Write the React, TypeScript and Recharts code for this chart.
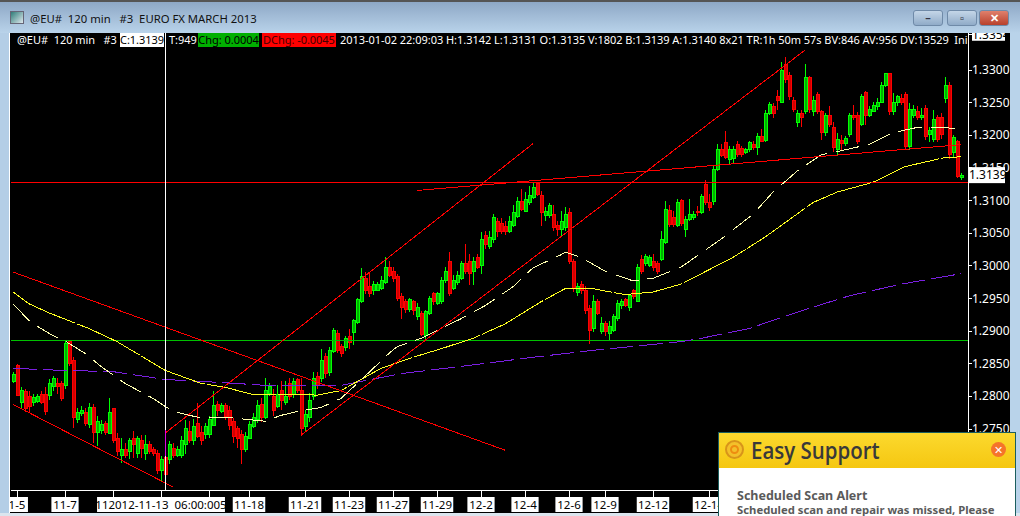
import { Bar, ComposedChart, Line, ReferenceLine, XAxis, YAxis } from "recharts";

// all prices in pips (1.3139 -> 13139), one entry per 120 min bar
const opens = [
  12823, 12847, 12790, 12808, 12800, 12790, 12793, 12803, 12803, 12802, 12815, 12820, 12820, 12817, 12884, 12855, 12765, 12774, 12776, 12757,
  12783, 12745, 12748, 12759, 12744, 12782, 12736, 12709, 12719, 12716, 12735, 12713, 12732, 12712, 12726, 12719, 12712, 12686, 12707, 12703,
  12721, 12709, 12710, 12726, 12747, 12732, 12759, 12745, 12741, 12741, 12756, 12788, 12777, 12786, 12779, 12761, 12751, 12742, 12718, 12736,
  12754, 12764, 12788, 12767, 12805, 12800, 12785, 12809, 12790, 12820, 12803, 12826, 12809, 12754, 12767, 12800, 12831, 12828, 12861, 12837,
  12869, 12896, 12876, 12875, 12892, 12898, 12914, 12946, 12981, 12969, 12962, 12963, 12965, 12975, 12998, 12992, 12983, 12953, 12945, 12933,
  12945, 12922, 12927, 12893, 12927, 12957, 12943, 12945, 12977, 13007, 12965, 12975, 12980, 13004, 13007, 12991, 13013, 13001, 13046, 13030,
  13041, 13068, 13065, 13061, 13052, 13062, 13076, 13099, 13084, 13097, 13105, 13126, 13108, 13077, 13077, 13079, 13062, 13055, 13059, 13081,
  13006, 12959, 12972, 12963, 12934, 12904, 12945, 12899, 12911, 12896, 12901, 12919, 12939, 12948, 12937, 12962, 12946, 13010, 13003, 13001,
  13007, 13003, 13010, 13036, 13085, 13074, 13062, 13100, 13056, 13071, 13074, 13084, 13082, 13125, 13097, 13099, 13148, 13178, 13189, 13163,
  13164, 13186, 13180, 13174, 13178, 13186, 13181, 13198, 13192, 13234, 13244, 13259, 13251, 13308, 13292, 13254, 13219, 13233, 13236, 13288,
  13236, 13262, 13236, 13204, 13231, 13212, 13178, 13192, 13187, 13201, 13231, 13230, 13216, 13265, 13231, 13236, 13244, 13251, 13277, 13294,
  13236, 13250, 13257, 13262, 13183, 13230, 13236, 13227, 13241, 13201, 13193, 13227, 13227, 13257, 13277, 13174, 13190, 13135,
];
const highs = [
  12838, 12850, 12815, 12812, 12808, 12803, 12803, 12809, 12815, 12826, 12832, 12828, 12824, 12887, 12887, 12861, 12782, 12785, 12782, 12790,
  12788, 12770, 12764, 12762, 12797, 12783, 12744, 12736, 12729, 12736, 12747, 12739, 12741, 12741, 12732, 12722, 12718, 12709, 12713, 12732,
  12729, 12724, 12739, 12764, 12762, 12765, 12790, 12754, 12759, 12770, 12809, 12793, 12790, 12790, 12785, 12767, 12754, 12748, 12745, 12762,
  12774, 12794, 12797, 12828, 12820, 12812, 12817, 12824, 12824, 12828, 12828, 12829, 12829, 12779, 12805, 12838, 12837, 12873, 12866, 12876,
  12905, 12902, 12881, 12892, 12904, 12919, 12951, 12997, 12991, 12991, 12977, 12975, 12985, 13013, 13007, 12998, 12988, 12959, 12950, 12951,
  12948, 12943, 12931, 12933, 12954, 12960, 12960, 12983, 12998, 13021, 12986, 12992, 13007, 13033, 13018, 13013, 13018, 13052, 13053, 13053,
  13079, 13074, 13074, 13068, 13076, 13094, 13105, 13117, 13113, 13123, 13128, 13129, 13114, 13090, 13097, 13094, 13068, 13084, 13090, 13088,
  13010, 12974, 12977, 12969, 12940, 12956, 12950, 12922, 12916, 12916, 12927, 12948, 12950, 12951, 12957, 12965, 13003, 13016, 13018, 13016,
  13018, 13007, 13053, 13100, 13094, 13084, 13102, 13103, 13077, 13103, 13084, 13091, 13110, 13132, 13110, 13155, 13187, 13186, 13206, 13183,
  13184, 13192, 13184, 13181, 13192, 13192, 13204, 13209, 13239, 13251, 13250, 13270, 13312, 13320, 13297, 13259, 13239, 13239, 13309, 13291,
  13260, 13266, 13239, 13234, 13245, 13221, 13204, 13201, 13199, 13234, 13247, 13236, 13263, 13268, 13245, 13251, 13257, 13282, 13295, 13295,
  13265, 13262, 13263, 13266, 13250, 13247, 13245, 13242, 13247, 13213, 13239, 13231, 13234, 13289, 13282, 13201, 13193, 13143,
];
const lows = [
  12821, 12800, 12782, 12776, 12774, 12785, 12790, 12788, 12771, 12794, 12809, 12803, 12793, 12812, 12846, 12751, 12759, 12770, 12754, 12751,
  12729, 12724, 12742, 12741, 12742, 12729, 12709, 12698, 12706, 12704, 12706, 12706, 12706, 12703, 12712, 12709, 12681, 12669, 12678, 12697,
  12706, 12707, 12706, 12712, 12729, 12726, 12736, 12726, 12735, 12736, 12754, 12770, 12774, 12764, 12748, 12729, 12721, 12697, 12715, 12735,
  12751, 12759, 12761, 12765, 12800, 12770, 12782, 12780, 12787, 12794, 12797, 12806, 12742, 12747, 12761, 12794, 12812, 12822, 12828, 12831,
  12866, 12866, 12861, 12870, 12873, 12879, 12911, 12943, 12957, 12953, 12956, 12962, 12963, 12972, 12983, 12975, 12946, 12919, 12928, 12930,
  12925, 12917, 12892, 12885, 12924, 12940, 12940, 12942, 12974, 12954, 12963, 12971, 12978, 12988, 12971, 12971, 12995, 12988, 13026, 13026,
  13035, 13044, 13049, 13047, 13050, 13059, 13073, 13084, 13082, 13094, 13102, 13107, 13061, 13068, 13074, 13053, 13046, 13044, 13053, 13003,
  12960, 12954, 12957, 12927, 12881, 12899, 12925, 12896, 12893, 12887, 12899, 12916, 12934, 12937, 12931, 12950, 12945, 12988, 13000, 12998,
  12992, 12988, 13007, 13033, 13059, 13059, 13059, 13061, 13044, 13068, 13071, 13076, 13079, 13093, 13084, 13094, 13145, 13166, 13163, 13155,
  13158, 13166, 13166, 13172, 13175, 13178, 13170, 13189, 13190, 13231, 13227, 13239, 13250, 13280, 13254, 13236, 13213, 13212, 13233, 13234,
  13230, 13233, 13193, 13199, 13212, 13175, 13170, 13178, 13184, 13198, 13224, 13186, 13215, 13216, 13228, 13235, 13239, 13250, 13274, 13231,
  13231, 13245, 13247, 13177, 13178, 13227, 13224, 13224, 13193, 13190, 13190, 13190, 13195, 13250, 13163, 13166, 13134, 13131,
];
const closes = [
  12834, 12802, 12809, 12782, 12785, 12799, 12800, 12791, 12777, 12820, 12828, 12815, 12797, 12881, 12851, 12767, 12776, 12779, 12759, 12783,
  12745, 12761, 12757, 12745, 12776, 12733, 12715, 12719, 12709, 12732, 12726, 12735, 12721, 12726, 12716, 12712, 12687, 12703, 12680, 12726,
  12709, 12718, 12732, 12751, 12733, 12754, 12739, 12732, 12754, 12764, 12786, 12779, 12786, 12770, 12756, 12739, 12736, 12718, 12739, 12757,
  12767, 12786, 12767, 12809, 12815, 12779, 12803, 12794, 12800, 12800, 12823, 12809, 12751, 12773, 12794, 12828, 12817, 12855, 12835, 12870,
  12901, 12870, 12866, 12889, 12882, 12916, 12948, 12983, 12962, 12957, 12972, 12972, 12977, 12998, 12986, 12980, 12950, 12937, 12933, 12948,
  12931, 12936, 12895, 12930, 12950, 12945, 12957, 12978, 12992, 12957, 12978, 12985, 13003, 12992, 12988, 13007, 12998, 13041, 13033, 13044,
  13074, 13053, 13052, 13052, 13068, 13081, 13099, 13087, 13102, 13108, 13120, 13110, 13082, 13084, 13093, 13059, 13055, 13068, 13079, 13006,
  12965, 12969, 12962, 12931, 12901, 12945, 12927, 12911, 12899, 12907, 12922, 12942, 12946, 12940, 12954, 12953, 12998, 12992, 13015, 13013,
  12998, 12992, 13041, 13087, 13064, 13064, 13097, 13065, 13071, 13079, 13079, 13081, 13106, 13097, 13090, 13148, 13178, 13169, 13166, 13178,
  13178, 13170, 13170, 13178, 13189, 13181, 13198, 13190, 13234, 13247, 13234, 13254, 13300, 13285, 13259, 13239, 13233, 13227, 13288, 13239,
  13254, 13236, 13204, 13230, 13216, 13181, 13193, 13187, 13195, 13231, 13228, 13190, 13259, 13231, 13239, 13245, 13251, 13277, 13294, 13236,
  13251, 13259, 13250, 13183, 13239, 13239, 13227, 13231, 13198, 13207, 13224, 13193, 13201, 13277, 13170, 13197, 13137, 13139,
];

// moving averages, read at the bars where the curve bends
const slowBars = [0, 4, 9, 19, 26, 38, 47, 53, 60, 72, 76, 82, 92, 100, 107, 115, 123, 132, 138, 145, 153, 160, 167, 180, 188, 200, 206, 215, 223, 233, 237];
const slowValues = [12960, 12942, 12928, 12904, 12884, 12840, 12820, 12814, 12803, 12803, 12802, 12809, 12843, 12860, 12873, 12889, 12911, 12945, 12965, 12965, 12956, 12960, 12972, 13013, 13044, 13097, 13113, 13128, 13152, 13166, 13167];
const fastBars = [0, 4, 7, 10, 13, 18, 22, 28, 35, 40, 47, 55, 63, 67, 71, 77, 82, 88, 94, 96, 102, 112, 118, 125, 130, 137, 138, 142, 148, 155, 160, 167, 177, 185, 190, 196, 202, 206, 214, 220, 226, 232, 237];
const fastValues = [12942, 12916, 12904, 12893, 12885, 12866, 12846, 12820, 12797, 12777, 12767, 12767, 12762, 12771, 12777, 12783, 12797, 12831, 12866, 12876, 12889, 12919, 12939, 12968, 12997, 13017, 13021, 13013, 12992, 12977, 12981, 12998, 13041, 13079, 13113, 13145, 13170, 13175, 13186, 13204, 13212, 13212, 13210];
const longBars = [0, 12, 25, 38, 53, 63, 82, 97, 112, 130, 144, 167, 172, 184, 197, 209, 222, 237];
const longValues = [12843, 12840, 12838, 12826, 12821, 12817, 12817, 12835, 12846, 12860, 12870, 12884, 12889, 12904, 12931, 12954, 12972, 12988];

const priceTicks = [1.3354, 1.33, 1.325, 1.32, 1.315, 1.31, 1.305, 1.3, 1.295, 1.29, 1.285, 1.28, 1.275, 1.3139];
const tickBars = [1, 13, 25, 37, 49, 59, 73, 84, 95, 106, 117, 128, 139, 148, 160, 174];
const tickLabels = ["1-5", "11-7", "", "112012-11-13  06:00:005", "", "11-18", "11-21", "11-23", "11-27", "11-29", "12-2", "12-4", "12-6", "12-9", "12-12", "12-14"];

// drawn trend lines: [bar, price, bar, price]
const trendLines = [
  [0, 1.29905, 123, 1.27177],
  [0, 1.27878, 40, 1.26613],
  [38, 1.27436, 130, 1.31872],
  [72, 1.27405, 198, 1.33305],
  [101, 1.31155, 237, 1.31857],
];

const lookup = (bars: number[], values: number[], bar: number) => {
  const at = bars.indexOf(bar);
  return at < 0 ? null : values[at] / 10000;
};

const table = closes.map((c, i) => ({
  bar: i,
  open: opens[i] / 10000,
  close: c / 10000,
  high: highs[i] / 10000,
  low: lows[i] / 10000,
  range: [lows[i] / 10000, highs[i] / 10000],
  slow: lookup(slowBars, slowValues, i),
  fast: lookup(fastBars, fastValues, i),
  long: lookup(longBars, longValues, i),
}));

const FONT = '"Noto Sans", sans-serif';

const Candle = (props: any) => {
  const { x, y, width, height, payload } = props;
  const span = payload.high - payload.low;
  const at = (v: number) => y + ((payload.high - v) / span) * height;
  const up = payload.close >= payload.open;
  const top = at(Math.max(payload.open, payload.close));
  const bottom = at(Math.min(payload.open, payload.close));
  const mid = Math.round(x + width / 2);
  const bright = up ? "#00ff00" : "#ff0000";
  return (
    <g shapeRendering="crispEdges">
      <line x1={mid + 0.5} x2={mid + 0.5} y1={y} y2={y + height} stroke={bright} />
      <rect x={mid - 1} y={top} width={3} height={Math.max(bottom - top, 1)} fill={up ? "#00b000" : "#d00000"} stroke={bright} />
    </g>
  );
};

const PriceTick = (props: any) => {
  const { x, y, payload } = props;
  const v = payload.value;
  const top = v === 1.3354;
  const last = v === 1.3139;
  return (
    <g>
      <line x1={x - 8} x2={x - 4} y1={y} y2={y} stroke="#fff" shapeRendering="crispEdges" />
      {top && <rect x={x - 4} y={y - 7} width={33} height={13} fill="#fff" />}
      {last && <rect x={x - 8} y={y - 8} width={37} height={16} fill="#fff" />}
      <text x={x - (last ? 7 : 4)} y={y + 4} fontFamily={FONT} fontSize={12} fill={top || last ? "#000" : "#fff"}>
        {v.toFixed(4)}
      </text>
    </g>
  );
};

const TimeTick = (props: any) => {
  const { x, y, payload } = props;
  const label = tickLabels[tickBars.indexOf(payload.value)];
  const w = label.length * 5.3 + 6;
  return (
    <g>
      <line x1={x} x2={x} y1={y - 8} y2={y - 1} stroke="#fff" shapeRendering="crispEdges" />
      {label !== "" && (
        <>
          <rect x={x - w / 2} y={y - 1} width={w} height={15} fill="#fff" />
          <text x={x} y={y + 11} textAnchor="middle" fontFamily={FONT} fontSize={11.5} fill="#000" style={{ whiteSpace: "pre" }}>
            {label}
          </text>
        </>
      )}
    </g>
  );
};

const box = (left: number, top: number, width: number, height: number, extra: any = {}): any => ({
  position: "absolute",
  left,
  top,
  width,
  height,
  ...extra,
});

const infoText = (left: number, width: number, bg: string, color: string, text: string) => (
  <div
    style={box(left, 33, width, 14, {
      background: bg,
      color,
      fontFamily: FONT,
      fontSize: 11,
      letterSpacing: -0.04,
      lineHeight: "14px",
      whiteSpace: "pre",
      textAlign: bg === "#000" ? "left" : "center",
    })}
  >
    {text}
  </div>
);

const WinButton = ({ left, mark, red }: { left: number; mark: string; red?: boolean }) => (
  <div
    style={box(left, 10, 30, 16, {
      borderRadius: 3,
      border: "1px solid #6f8aa8",
      boxSizing: "border-box",
      background: red ? "linear-gradient(#e0806c, #b8402c)" : "linear-gradient(#c4d6e8, #90abc8)",
      color: red ? "#fff" : "#334",
      fontFamily: FONT,
      fontWeight: 700,
      fontSize: 11,
      lineHeight: "14px",
      textAlign: "center",
    })}
  >
    {mark}
  </div>
);

const App = () => {
  return (
    <div style={{ position: "fixed", left: 0, top: 0, width: 1020, height: 516, overflow: "hidden", background: "#000" }}>
      <div style={box(0, 0, 1020, 516, { zIndex: 1 })}>
        <ComposedChart
          width={1020}
          height={516}
          data={table}
          barCategoryGap={0}
          margin={{ top: 33, right: 10, bottom: 3, left: 11 }}
        >
          <XAxis
            dataKey="bar"
            type="category"
            ticks={tickBars}
            interval={0}
            height={23}
            padding={{ left: 0, right: 5 }}
            axisLine={{ stroke: "#fff", shapeRendering: "crispEdges" }}
            tickLine={false}
            tick={<TimeTick />}
          />
          <YAxis
            orientation="right"
            type="number"
            domain={[1.26567, 1.33567]}
            allowDataOverflow
            ticks={priceTicks}
            interval={0}
            width={42}
            axisLine={{ stroke: "#fff", shapeRendering: "crispEdges" }}
            tickLine={false}
            tick={<PriceTick />}
          />
          <ReferenceLine y={1.3127} stroke="#ff0000" strokeWidth={1} shapeRendering="crispEdges" />
          <ReferenceLine y={1.2885} stroke="#00c000" strokeWidth={1} shapeRendering="crispEdges" />
          <Bar dataKey="range" isAnimationActive={false} shape={<Candle />} />
          <Line dataKey="long" connectNulls dot={false} stroke="#7a1fe0" strokeWidth={1} strokeDasharray="24 6" shapeRendering="crispEdges" isAnimationActive={false} />
          <Line dataKey="slow" connectNulls dot={false} stroke="#ffff20" strokeWidth={1} strokeDasharray="70 2" shapeRendering="crispEdges" isAnimationActive={false} />
          <Line dataKey="fast" connectNulls dot={false} stroke="#ffffb0" strokeWidth={1} strokeDasharray="24 9" shapeRendering="crispEdges" isAnimationActive={false} />
          {trendLines.map((t, i) => (
            <ReferenceLine
              key={i}
              segment={[
                { x: t[0], y: t[1] },
                { x: t[2], y: t[3] },
              ]}
              stroke="#ff0000"
              strokeWidth={1}
              shapeRendering="crispEdges"
              ifOverflow="visible"
            />
          ))}
          <ReferenceLine x={38} stroke="#fff" strokeWidth={1} shapeRendering="crispEdges" />
          <ReferenceLine
            segment={[
              { x: 38, y: 1.2748 },
              { x: 38, y: 1.2709 },
            ]}
            stroke="#e000e0"
            strokeWidth={1}
            shapeRendering="crispEdges"
          />
        </ComposedChart>
      </div>

      {/* status line above the plot */}
      <div style={{ position: "absolute", left: 0, top: 0, zIndex: 2 }}>
        {infoText(17, 100, "#000", "#fff", "@EU#  120 min   #3")}
        {infoText(120, 44, "#fff", "#000", "C:1.3139")}
        {infoText(169, 29, "#000", "#fff", "T:949")}
        {infoText(198, 61, "#00b000", "#000", "Chg: 0.0004")}
        {infoText(262, 74, "#ff0000", "#400", "DChg: -0.0045")}
        {infoText(340, 628, "#000", "#fff", "2013-01-02 22:09:03 H:1.3142 L:1.3131 O:1.3135 V:1802 B:1.3139 A:1.3140 8x21 TR:1h 50m 57s BV:846 AV:956 DV:13529  Ini")}
      </div>

      {/* window frame */}
      <div style={box(0, 0, 1020, 33, { zIndex: 3, background: "linear-gradient(#8ea8c6, #b9d3ea)", borderTop: "2px solid #555", boxSizing: "border-box" })} />
      <div style={box(0, 33, 10, 483, { zIndex: 3, background: "#b4cee6", borderRight: "1px solid #fff", boxSizing: "border-box" })} />
      <div style={box(1010, 33, 10, 483, { zIndex: 3, background: "#b9d3ea" })} />
      <div style={box(0, 513, 1020, 3, { zIndex: 3, background: "#dbe5ee" })} />
      <div style={box(10, 11, 14, 13, { zIndex: 4, background: "linear-gradient(135deg, #2f7d78, #dfe8ee)", border: "1px solid #667", boxSizing: "border-box" })} />
      <div style={box(30, 10, 400, 18, { zIndex: 4, fontFamily: FONT, fontSize: 11.3, lineHeight: "18px", color: "#111", whiteSpace: "pre" })}>
        {"@EU#  120 min   #3  EURO FX MARCH 2013"}
      </div>
      <div style={{ position: "absolute", left: 0, top: 0, zIndex: 4 }}>
        <WinButton left={913} mark="–" />
        <WinButton left={947} mark="▫" />
        <WinButton left={979} mark="✕" red />
      </div>

      {/* pop-up sitting over the chart */}
      <div style={box(718, 432, 298, 84, { zIndex: 5, background: "#fff", borderLeft: "1px solid #1b5e5e", borderTop: "1px solid #1b5e5e", borderRight: "1px solid #1b5e5e", boxSizing: "border-box" })}>
        <div style={box(0, 0, 296, 35, { background: "linear-gradient(#fcd92e, #f5c711)" })} />
        <div style={box(6, 7, 19, 19, { borderRadius: 10, background: "#f3c02a", border: "2px solid #d8941a", boxSizing: "border-box" })} />
        <div style={box(11, 12, 9, 9, { borderRadius: 5, border: "2px solid #ee8c10", boxSizing: "border-box" })} />
        <div style={box(32, 0, 200, 35, { fontFamily: '"Open Sans", sans-serif', fontWeight: 600, fontSize: 23, lineHeight: "34px", color: "#39393a", whiteSpace: "pre", transform: "scaleX(0.89)", transformOrigin: "left" })}>
          Easy Support
        </div>
        <div style={box(272, 9, 15, 15, { borderRadius: 8, background: "#f5742a", color: "#fff", fontFamily: FONT, fontSize: 11, lineHeight: "15px", textAlign: "center" })}>✕</div>
        <div style={box(18, 55, 270, 16, { fontFamily: FONT, fontWeight: 700, fontSize: 12.5, lineHeight: "16px", color: "#5a5a5a", whiteSpace: "pre" })}>
          Scheduled Scan Alert
        </div>
        <div style={box(18, 69, 275, 15, { fontFamily: FONT, fontWeight: 700, fontSize: 11.3, lineHeight: "15px", color: "#5a5a5a", whiteSpace: "pre" })}>
          Scheduled scan and repair was missed, Please
        </div>
      </div>
    </div>
  );
};

export default App;
